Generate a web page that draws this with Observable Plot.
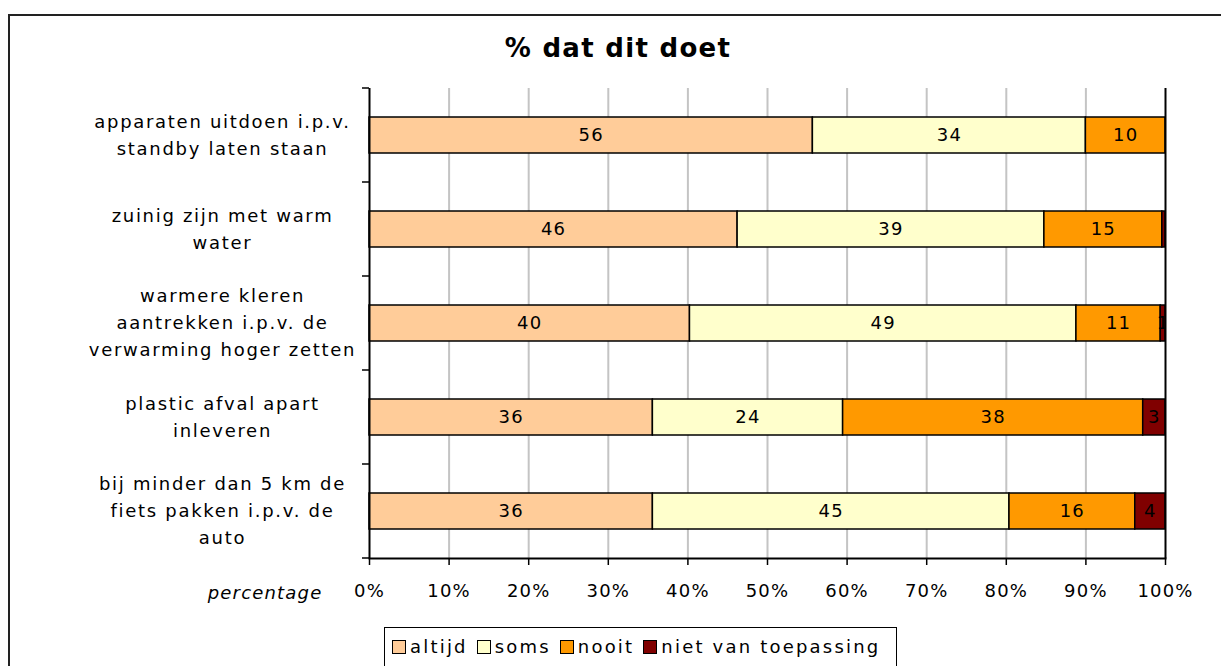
<!DOCTYPE html>
<html><head><meta charset="utf-8">
<script src="https://cdn.jsdelivr.net/npm/d3@7"></script>
<script src="https://cdn.jsdelivr.net/npm/@observablehq/plot@0.6"></script>
<style>
html,body{margin:0;padding:0;background:#fff;overflow:hidden;}
body{font-family:"DejaVu Sans",sans-serif;color:#000;}
#frame{position:absolute;left:8px;top:14px;width:1300px;height:800px;border:2px solid #222;box-sizing:border-box;}
#title{position:absolute;left:0;top:33px;width:1236px;text-align:center;font-weight:bold;font-size:26px;letter-spacing:1.3px;line-height:31px;}
#chart{position:absolute;left:0;top:70px;}
#legend{position:absolute;left:384px;top:627px;width:513px;height:60px;border:1.5px solid #000;box-sizing:border-box;font-size:18px;letter-spacing:2.2px;padding:8px 0 0 7px;white-space:nowrap;}
#legend .item{display:inline-flex;align-items:center;margin-right:9px;}
#legend .sw{display:inline-block;width:14px;height:14px;border:1.5px solid #000;margin-right:4px;box-sizing:border-box;}
</style>
</head><body>
<div id="frame"></div>
<div id="title">% dat dit doet</div>
<div id="chart"></div>
<div id="legend"></div>
<script>
const categories = [
  "apparaten uitdoen i.p.v. standby laten staan",
  "zuinig zijn met warm water",
  "warmere kleren aantrekken i.p.v. de verwarming hoger zetten",
  "plastic afval apart inleveren",
  "bij minder dan 5 km de fiets pakken i.p.v. de auto"
];
const categoryLabels = [
  "apparaten uitdoen i.p.v.\nstandby laten staan",
  "zuinig zijn met warm\nwater",
  "warmere kleren\naantrekken i.p.v. de\nverwarming hoger zetten",
  "plastic afval apart\ninleveren",
  "bij minder dan 5 km de\nfiets pakken i.p.v. de\nauto"
];
const series = ["altijd", "soms", "nooit", "niet van toepassing"];
const colors = ["#FFCC99", "#FFFFCC", "#FF9900", "#800000"];
const altijd = [55.7, 46.2, 40.3, 35.6, 35.6];
const soms   = [34.3, 38.5, 48.6, 23.9, 44.8];
const nooit  = [10.0, 14.8, 10.6, 37.7, 15.8];
const niet   = [0.0, 0.4, 0.6, 2.8, 3.8];
const xTicks = [0, 0.1, 0.2, 0.3, 0.4, 0.5, 0.6, 0.7, 0.8, 0.9, 1];
const xLabel = "percentage";

const valuesBySeries = [altijd, soms, nooit, niet];
const rows = [];
categories.forEach((c, i) => {
  series.forEach((s, j) => rows.push({cat: c, series: s, value: valuesBySeries[j][i]}));
});
const labelOf = new Map(categories.map((c, i) => [c, categoryLabels[i]]));

function yBoundaryTicks(index, scales, values, dimensions) {
  const y = scales.y;
  const bw = y.bandwidth();
  const step = y.step();
  const x0 = dimensions.marginLeft;
  const g = d3.create("svg:g").attr("stroke", "#000").attr("stroke-width", 1.5);
  const ys = [];
  categories.forEach(c => ys.push(y(c) + bw / 2 - step / 2));
  ys.push(y(categories[categories.length - 1]) + bw / 2 + step / 2);
  ys.forEach(v => g.append("line").attr("x1", x0 - 7).attr("x2", x0).attr("y1", v).attr("y2", v));
  return g.node();
}

const stackOpts = {x: "value", y: "cat", z: "series", order: series, offset: "normalize"};

const chart = Plot.plot({
  width: 1221,
  height: 540,
  marginTop: 18,
  marginBottom: 52,
  marginLeft: 369,
  marginRight: 56,
  style: {fontFamily: "'DejaVu Sans', sans-serif", fontSize: "18px", letterSpacing: "1.2px", color: "#000", background: "transparent"},
  x: {domain: [0, 1], axis: null},
  y: {domain: categories, axis: null, paddingInner: 0.62, paddingOuter: 0.31},
  color: {domain: series, range: colors},
  marks: [
    Plot.gridX(xTicks.slice(1, -1), {stroke: "#c4c4c4", strokeOpacity: 1, strokeWidth: 2}),
    Plot.barX(rows, Plot.stackX({...stackOpts, fill: "series", stroke: "#000", strokeWidth: 1.5})),
    Plot.text(rows, Plot.stackX({...stackOpts, text: d => Math.round(d.value) > 0 ? String(Math.round(d.value)) : null, fontSize: 18, fill: "#000", clip: true})),
    Plot.ruleX([0], {stroke: "#000", strokeWidth: 2}),
    Plot.ruleX([1], {stroke: "#000", strokeWidth: 2}),
    Plot.frame({anchor: "bottom", stroke: "#000", strokeWidth: 2}),
    Plot.axisX({ticks: xTicks, tickFormat: d3.format(".0%"), tickSize: 7, tickPadding: 19, fontSize: 18, stroke: "#000", strokeWidth: 1.5, label: null}),
    yBoundaryTicks,
    Plot.text(categories, {y: d => d, text: d => labelOf.get(d), frameAnchor: "left", dx: -147, dy: -3, textAnchor: "middle", lineHeight: 1.5, fontSize: 18, fill: "#000"}),
    Plot.text([xLabel], {text: d => d, frameAnchor: "bottom-left", dx: -47, dy: 35, textAnchor: "end", lineAnchor: "middle", fontStyle: "italic", fontSize: 18, fill: "#000"})
  ]
});
chart.querySelectorAll("text").forEach(t => {
  if (t.textContent.startsWith("apparaten")) t.parentNode.style.letterSpacing = "1.7px";
});
document.getElementById("chart").appendChild(chart);

const legend = document.getElementById("legend");
series.forEach((s, i) => {
  const item = document.createElement("span");
  item.className = "item";
  const sw = document.createElement("span");
  sw.className = "sw";
  sw.style.background = colors[i];
  item.appendChild(sw);
  item.appendChild(document.createTextNode(s));
  legend.appendChild(item);
});
</script>
</body></html>
